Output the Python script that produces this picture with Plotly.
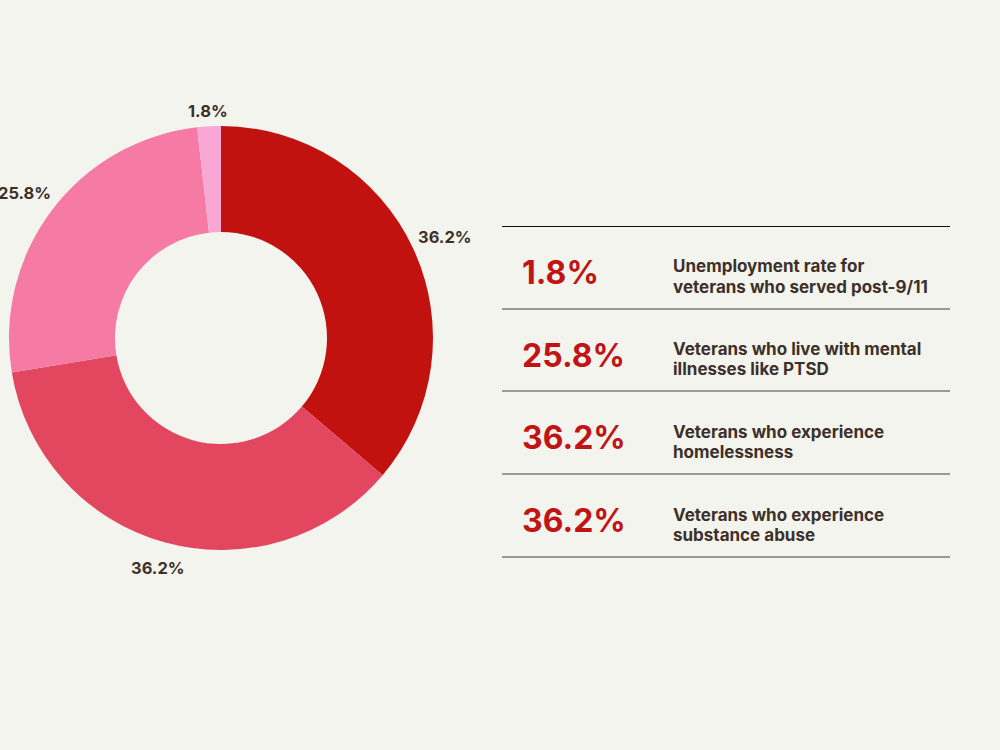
import math
import plotly.graph_objects as go

# Data
slice_labels = ["Homelessness", "Substance abuse", "Mental illness (PTSD)", "Unemployment post-9/11"]
slice_values = [36.2, 36.2, 25.8, 1.8]
slice_colors = ["#C11210", "#E3475F", "#F57BA4", "#F9A8D6"]

table_values = ["1.8%", "25.8%", "36.2%", "36.2%"]
table_line1 = [
    "Unemployment rate for",
    "Veterans who live with mental",
    "Veterans who experience",
    "Veterans who experience",
]
table_line2 = [
    "veterans who served post-9/11",
    "illnesses like PTSD",
    "homelessness",
    "substance abuse",
]

W, H = 1000, 750
BG = "#F4F4EF"
TXT = "#3D3028"
RED = "#C11414"

def px(x):
    return x / W

def py(y):
    return 1 - y / H

# Donut geometry (pixels)
CX, CY, R = 221, 338, 212

fig = go.Figure()
fig.add_trace(go.Pie(
    labels=slice_labels,
    values=slice_values,
    marker=dict(colors=slice_colors, line=dict(width=0)),
    hole=0.5,
    sort=False,
    direction="clockwise",
    rotation=0,
    textinfo="none",
    showlegend=False,
    domain=dict(x=[px(CX - R), px(CX + R)], y=[py(CY + R), py(CY - R)]),
))

annotations = []
# outside value labels, placed along each slice's mid angle
total = sum(slice_values)
cum = 0.0
hw, hh, gap = 26, 9, 8
for v in slice_values:
    mid = (cum + v / 2) / total * 2 * math.pi
    cum += v
    s, c = math.sin(mid), math.cos(mid)
    d = R + gap + hw * abs(s) + hh * abs(c)
    lx = CX + d * s
    ly = CY - d * c + 3
    annotations.append(dict(xref="paper", yref="paper", x=px(lx), y=py(ly),
                            xanchor="center", yanchor="middle", showarrow=False,
                            text=f"{v:.1f}%",
                            font=dict(family="Inter", size=16.5, color=TXT, weight="bold")))

shapes = []
line_ys = [226, 309, 391, 474, 557]
for i, y in enumerate(line_ys):
    shapes.append(dict(type="line", xref="paper", yref="paper",
                       x0=px(502), x1=px(950),
                       y0=py(y + 0.5 if i == 0 else y), y1=py(y + 0.5 if i == 0 else y),
                       line=dict(color="#111111" if i == 0 else "#7C7C78",
                                 width=1.2 if i == 0 else 1.6)))

for i, v in enumerate(table_values):
    yc = (line_ys[i] + line_ys[i + 1]) / 2
    annotations.append(dict(xref="paper", yref="paper", x=px(520), y=py(yc + 5),
                            xanchor="left", yanchor="middle", showarrow=False,
                            text=v, font=dict(family="Inter", size=32, color=RED, weight="bold")))
    annotations.append(dict(xref="paper", yref="paper", x=px(671), y=py(yc - 1),
                            xanchor="left", yanchor="middle", showarrow=False, align="left",
                            text=table_line1[i],
                            font=dict(family="Inter", size=17, color=TXT, weight="bold")))
    annotations.append(dict(xref="paper", yref="paper", x=px(671), y=py(yc + 19),
                            xanchor="left", yanchor="middle", showarrow=False, align="left",
                            text=table_line2[i],
                            font=dict(family="Inter", size=17, color=TXT, weight="bold")))

fig.update_layout(
    width=W, height=H,
    margin=dict(l=0, r=0, t=0, b=0),
    paper_bgcolor=BG, plot_bgcolor=BG,
    shapes=shapes, annotations=annotations,
)

fig.write_html("out.html")
